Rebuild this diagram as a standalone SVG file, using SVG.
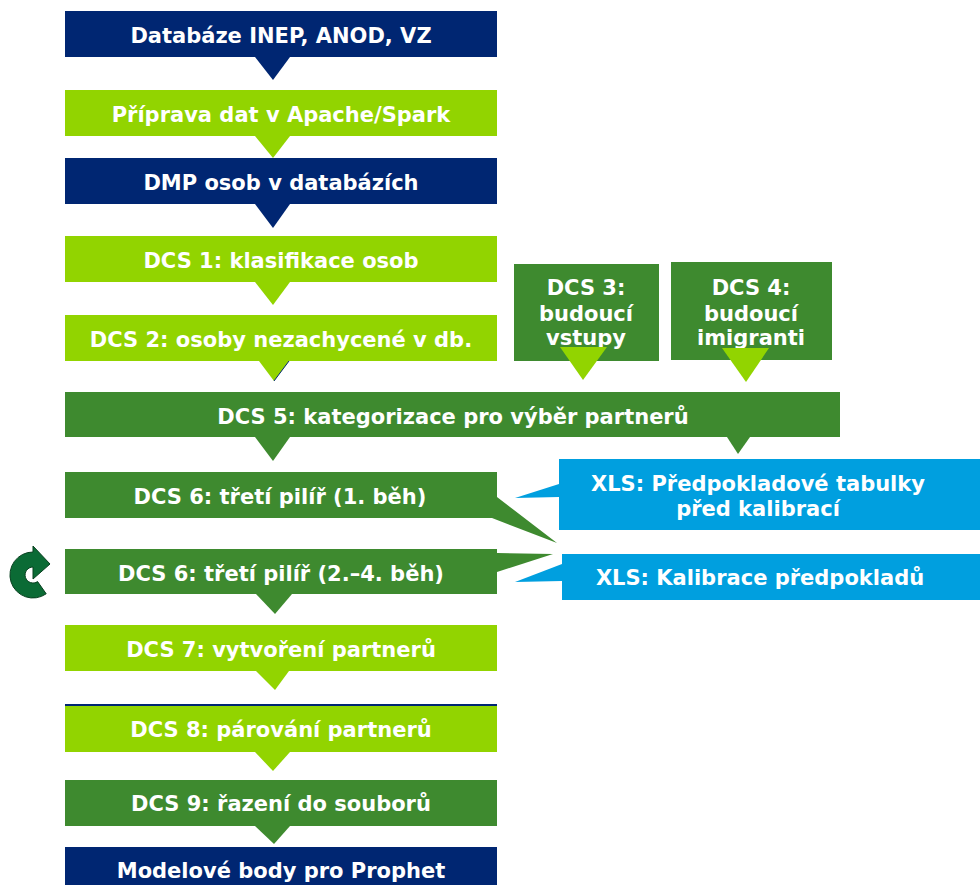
<svg xmlns="http://www.w3.org/2000/svg" width="980" height="885" viewBox="0 0 980 885">
<style>
.navy{fill:#002672}
.lg{fill:#92D400}
.mg{fill:#3E8A2F}
.bl{fill:#009FDF}
text{font-family:"DejaVu Sans","Verdana",sans-serif;font-weight:bold;font-size:21px;fill:#fff;text-anchor:middle}
</style>
<rect width="980" height="885" fill="#fff"/>
<g id="connectors">
<polygon class="navy" points="255,57 290,57 273,80"/>
<polygon class="lg" points="255,136 290,136 273,158"/>
<polygon class="navy" points="255,204 290,204 273,228"/>
<polygon class="lg" points="255,282 290,282 273,305"/>
<polygon class="lg" points="259,361 289,361 274,381"/>
<line x1="289" y1="361" x2="274" y2="381" stroke="#002672" stroke-width="1"/>
<polygon class="mg" points="255,437 290,437 273,461"/>
<polygon class="mg" points="727,437 750,437 738,454"/>
<polygon class="mg" points="497,497 557,543 492,518 497,518"/>
<polygon class="mg" points="497,553 553,554 497,572"/>
<polygon class="bl" points="559,484 515,498 559,497"/>
<polygon class="bl" points="562,564 515,582 562,581"/>
<polygon class="mg" points="256,594 292,594 275,614"/>
<polygon class="lg" points="256,671 289,671 275,690"/>
<polygon class="lg" points="255,752 290,752 273,771"/>
<polygon class="mg" points="255,826 290,826 274,844"/>
</g>
<g id="n1"><rect class="navy" x="65" y="11" width="432" height="46"/><text x="281" y="43">Databáze INEP, ANOD, VZ</text></g>
<g id="n2"><rect class="lg" x="65" y="90" width="432" height="46"/><text x="281" y="122">Příprava dat v Apache/Spark</text></g>
<g id="n3"><rect class="navy" x="65" y="158" width="432" height="46"/><text x="281" y="190">DMP osob v databázích</text></g>
<g id="n4"><rect class="lg" x="65" y="236" width="432" height="46"/><text x="281" y="268">DCS 1: klasifikace osob</text></g>
<g id="n5"><rect class="lg" x="65" y="315" width="432" height="46"/><text x="281" y="347">DCS 2: osoby nezachycené v db.</text></g>
<g id="n6"><rect class="mg" x="514" y="264" width="145" height="97"/><text x="586" y="295">DCS 3:</text><text x="586" y="321">budoucí</text><text x="586" y="345">vstupy</text></g>
<polygon class="lg" points="560,347 607,347 583,380"/>
<g id="n7"><rect class="mg" x="671" y="262" width="161" height="98"/><text x="751" y="295">DCS 4:</text><text x="751" y="321">budoucí</text><text x="751" y="345">imigranti</text></g>
<polygon class="lg" points="722,348 769,348 746,382"/>
<g id="n8"><rect class="mg" x="65" y="392" width="775" height="45"/><text x="453" y="424">DCS 5: kategorizace pro výběr partnerů</text></g>
<g id="n9"><rect class="mg" x="65" y="472" width="432" height="46"/><text x="280" y="504">DCS 6: třetí pilíř (1. běh)</text></g>
<g id="n10"><rect class="mg" x="65" y="549" width="432" height="45"/><text x="281" y="581">DCS 6: třetí pilíř (2.–4. běh)</text></g>
<g id="n11"><rect class="bl" x="559" y="459" width="421" height="71"/><text x="758" y="491">XLS: Předpokladové tabulky</text><text x="758" y="516">před kalibrací</text></g>
<g id="n12"><rect class="bl" x="562" y="554" width="418" height="46"/><text x="760" y="585">XLS: Kalibrace předpokladů</text></g>
<g id="loop"><path d="M33,552 A23,23 0 1 0 46.2,593.8 L37.6,581.6 A8,8 0 1 1 33,567 L33,579 L50,564 L33,546 Z" fill="#0B6B35" stroke="#08401F" stroke-width="1"/></g>
<g id="n13"><rect class="lg" x="65" y="625" width="432" height="46"/><text x="281" y="657">DCS 7: vytvoření partnerů</text></g>
<g id="n14"><rect class="lg" x="65" y="704" width="432" height="48"/><rect class="navy" x="65" y="704" width="432" height="2"/><text x="281" y="737">DCS 8: párování partnerů</text></g>
<g id="n15"><rect class="mg" x="65" y="780" width="432" height="46"/><text x="281" y="811">DCS 9: řazení do souborů</text></g>
<g id="n16"><rect class="navy" x="65" y="847" width="432" height="40"/><text x="281" y="878">Modelové body pro Prophet</text></g>
</svg>
